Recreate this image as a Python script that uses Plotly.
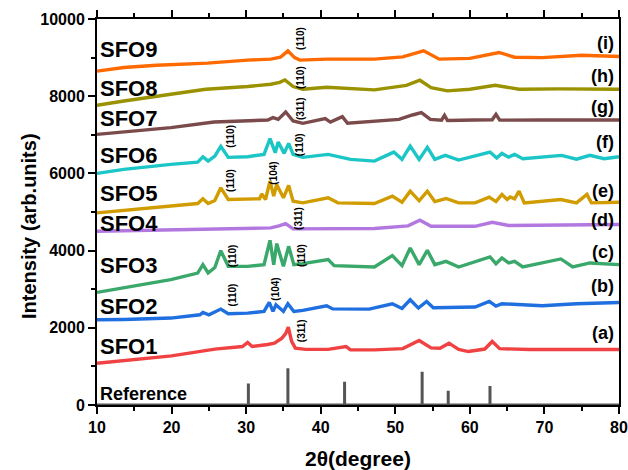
import plotly.graph_objects as go

# ---------------- data ----------------
sfo9_x = [10, 13.6, 18, 24.8, 30.2, 33.3, 34.6, 35.6, 36.5, 37.2, 40.8, 47.2, 51, 53.8, 55.9, 60, 63.9, 66, 69.7, 75, 80]
sfo9_y = [8650, 8744, 8800, 8856, 8934, 8960, 9010, 9175, 9000, 8934, 8960, 8960, 9020, 9175, 8960, 8980, 9133, 9010, 9000, 9060, 9030]

sfo8_x = [10, 13.6, 19.9, 24.6, 30.2, 33.3, 34.5, 35.2, 36.3, 37.6, 40.8, 47.2, 51.5, 53.3, 54.8, 57, 60, 63.4, 66.6, 72, 80]
sfo8_y = [7765, 7877, 8050, 8180, 8250, 8310, 8360, 8422, 8250, 8180, 8230, 8163, 8280, 8414, 8224, 8137, 8180, 8284, 8180, 8190, 8180]

sfo7_x = [10, 13.6, 19.9, 25.7, 30.2, 32.9, 33.6, 34.3, 35.3, 36.3, 37.6, 40.6, 41.3, 42.9, 43.6, 47.2, 50.5, 52.3, 53.5, 54.7, 56.2, 56.6, 57, 60.6, 63, 63.5, 64, 69.7, 80]
sfo7_y = [7012, 7072, 7185, 7331, 7357, 7383, 7445, 7400, 7591, 7357, 7298, 7420, 7330, 7471, 7298, 7357, 7400, 7513, 7575, 7400, 7380, 7505, 7370, 7383, 7390, 7530, 7380, 7383, 7383]

sfo6_x = [10, 13.6, 19.9, 23.5, 24.2, 24.9, 25.8, 26.6, 27.6, 30.2, 32.4, 33.2, 33.9, 34.3, 35.1, 35.7, 36.3, 37.6, 41, 44, 47.2, 49.8, 50.9, 52, 53.2, 54.3, 55.3, 56.7, 58.5, 62.7, 63.6, 64.3, 65.2, 66, 67.1, 72.3, 74.3, 76.1, 78, 80]
sfo6_y = [6000, 6103, 6233, 6293, 6432, 6319, 6450, 6700, 6415, 6432, 6493, 6900, 6536, 6812, 6518, 6778, 6493, 6415, 6493, 6363, 6319, 6552, 6363, 6708, 6363, 6674, 6363, 6467, 6345, 6552, 6400, 6518, 6420, 6493, 6380, 6467, 6370, 6467, 6380, 6430]

sfo5_x = [10, 13.6, 19.9, 23.5, 24.2, 24.9, 25.8, 26.6, 27.6, 30.2, 31.8, 32.1, 32.6, 33.2, 33.7, 34.1, 35.0, 35.7, 36.3, 37.6, 41, 42.3, 47.2, 49.6, 50.9, 52, 53.2, 54.3, 55.3, 56.8, 58.5, 60.7, 62.6, 63.5, 64.3, 65.0, 65.4, 66.0, 66.6, 67.3, 72.2, 74.3, 75.7, 76.3, 80]
sfo5_y = [4978, 5047, 5150, 5220, 5342, 5220, 5300, 5627, 5324, 5342, 5342, 5471, 5324, 5800, 5410, 5713, 5367, 5687, 5280, 5237, 5367, 5237, 5220, 5410, 5254, 5540, 5290, 5540, 5270, 5350, 5237, 5237, 5384, 5270, 5454, 5324, 5390, 5340, 5540, 5237, 5324, 5237, 5454, 5237, 5254]

sfo4_x = [10, 19.9, 30.2, 33.3, 34.4, 35.3, 36.3, 40.6, 47.2, 51.7, 53.3, 54.8, 60.7, 63, 65.2, 80]
sfo4_y = [4500, 4545, 4571, 4588, 4640, 4700, 4562, 4571, 4571, 4640, 4786, 4630, 4630, 4735, 4650, 4675]

sfo3_x = [10, 13.6, 19.9, 23.5, 24.2, 24.9, 25.8, 26.6, 27.6, 30.2, 32.4, 33.2, 33.7, 34.1, 35.0, 35.7, 36.4, 37.6, 41, 41.8, 47.2, 49.6, 50.9, 52, 53.2, 54.3, 55.3, 56.8, 58.5, 62.7, 63.5, 64.3, 65.2, 66, 67.1, 72.2, 73.8, 76.1, 80]
sfo3_y = [2917, 3030, 3246, 3419, 3636, 3420, 3560, 3999, 3592, 3592, 3636, 4267, 3636, 4181, 3592, 4111, 3636, 3662, 3766, 3610, 3575, 3870, 3610, 4069, 3636, 4007, 3636, 3722, 3575, 3835, 3660, 3809, 3680, 3722, 3575, 3784, 3575, 3680, 3636]

sfo2_x = [10, 13.6, 19.9, 23.8, 24.2, 25.0, 26.6, 27.6, 30.2, 32.4, 33.1, 33.6, 34.0, 35.0, 35.6, 36.4, 37.6, 40.8, 41.6, 46.5, 49.6, 50.9, 52, 53.1, 54.2, 55.1, 60.7, 62.6, 63.5, 64.3, 69.7, 74.3, 80]
sfo2_y = [2208, 2215, 2252, 2337, 2397, 2337, 2485, 2363, 2381, 2424, 2657, 2424, 2597, 2424, 2623, 2424, 2450, 2571, 2490, 2485, 2623, 2500, 2727, 2511, 2683, 2520, 2537, 2683, 2560, 2623, 2571, 2623, 2657]

sfo1_x = [10, 13.6, 20, 25.8, 29.5, 30.2, 30.8, 32.9, 33.8, 34.8, 35.3, 35.65, 36.1, 36.6, 38, 41, 43.4, 44, 47.2, 51, 53.2, 54.8, 56, 57.2, 58.5, 59.8, 62, 63, 64, 68, 72, 76, 80]
sfo1_y = [1082, 1143, 1272, 1446, 1515, 1619, 1515, 1567, 1600, 1732, 1850, 2018, 1650, 1472, 1440, 1440, 1515, 1430, 1428, 1460, 1671, 1480, 1470, 1602, 1440, 1385, 1450, 1645, 1460, 1437, 1430, 1440, 1437]

ref_pos = [30.3, 35.6, 43.2, 53.6, 57.1, 62.7]
ref_int = [560, 950, 600, 860, 370, 490]

names = ["SFO1", "SFO2", "SFO3", "SFO4", "SFO5", "SFO6", "SFO7", "SFO8", "SFO9"]
letters = ["(a)", "(b)", "(c)", "(d)", "(e)", "(f)", "(g)", "(h)", "(i)"]
name_y = [1506, 2545, 3618, 4700, 5480, 6467, 7428, 8207, 9220]
letter_y = [1870, 3090, 3973, 4804, 5532, 6804, 7713, 8518, 9375]

peak_labels = ["(110)", "(110)", "(311)", "(110)", "(110)", "(110)", "(104)", "(311)", "(110)", "(110)", "(110)", "(104)", "(311)"]
peak_x = [37.2, 37.2, 37.2, 27.9, 37.2, 27.9, 33.7, 37.0, 28.2, 37.4, 28.2, 34.0, 37.4]
peak_y = [9505, 8492, 7687, 6960, 6752, 5817, 6012, 4830, 3870, 3870, 2857, 3013, 1922]

x_title = "2θ(degree)"
y_title = "Intensity (arb.units)"

# ---------------- styling ----------------
colors = ["#f04242", "#1f6fe0", "#3aa86a", "#b278e0", "#d09c00",
          "#1cc6c6", "#7b4b4b", "#9a9200", "#ff6a00"]
series_x = [sfo1_x, sfo2_x, sfo3_x, sfo4_x, sfo5_x, sfo6_x, sfo7_x, sfo8_x, sfo9_x]
series_y = [sfo1_y, sfo2_y, sfo3_y, sfo4_y, sfo5_y, sfo6_y, sfo7_y, sfo8_y, sfo9_y]
FONT = "Liberation Sans, Arial, sans-serif"

fig = go.Figure()

# reference stick pattern (with its baseline)
rx, ry = [10], [0]
for p, h in zip(ref_pos, ref_int):
    rx += [p, p, p]
    ry += [0, h, 0]
rx.append(80)
ry.append(0)
fig.add_trace(go.Scatter(x=rx, y=ry, mode="lines",
                         line=dict(color="#555555", width=3),
                         showlegend=False, hoverinfo="skip"))

for xs, ys, c, n in zip(series_x, series_y, colors, names):
    fig.add_trace(go.Scatter(x=xs, y=ys, mode="lines", name=n,
                             line=dict(color=c, width=3.4),
                             showlegend=False))

ann = []
for n, yv in zip(names, name_y):
    ann.append(dict(x=10.1, y=yv, text=n, xanchor="left", yanchor="middle",
                    showarrow=False, font=dict(family=FONT, size=22, color="black", weight="bold")))
ann.append(dict(x=10.15, y=286, text="Reference", xanchor="left", yanchor="middle",
                showarrow=False, font=dict(family=FONT, size=18, color="black", weight="bold")))
for t, yv in zip(letters, letter_y):
    ann.append(dict(x=79.6, y=yv, text=t, xanchor="right", yanchor="middle",
                    showarrow=False, font=dict(family=FONT, size=18, color="black", weight="bold")))
for t, xv, yv in zip(peak_labels, peak_x, peak_y):
    ann.append(dict(x=xv, y=yv, text=t, textangle=-90, xanchor="center", yanchor="middle",
                    showarrow=False, font=dict(family=FONT, size=10, color="black", weight="bold")))

# axis titles placed as paper annotations for exact positioning
ann.append(dict(xref="paper", yref="paper", x=0.5, y=0, yshift=-53, text=x_title,
                xanchor="center", yanchor="middle", showarrow=False,
                font=dict(family=FONT, size=21, color="black", weight="bold")))
ann.append(dict(xref="paper", yref="paper", x=0, y=0.5, xshift=-68, yshift=-14, text=y_title,
                textangle=-90, xanchor="center", yanchor="middle", showarrow=False,
                font=dict(family=FONT, size=20, color="black", weight="bold")))

axis_common = dict(showline=True, linecolor="black", linewidth=2, mirror="ticks",
                   ticks="outside", ticklen=7, tickwidth=2, tickcolor="black",
                   showgrid=False, zeroline=False, automargin=False,
                   tickfont=dict(family=FONT, size=16, color="black", weight="bold"))

fig.update_layout(
    width=628, height=470,
    margin=dict(l=97, r=9, t=19, b=65),
    paper_bgcolor="white", plot_bgcolor="white",
    annotations=ann,
    xaxis=dict(range=[10, 80], tickmode="linear", tick0=10, dtick=10,
               minor=dict(dtick=5, ticks="outside", ticklen=4, tickwidth=2, tickcolor="black"),
               **axis_common),
    yaxis=dict(range=[0, 10000], tickmode="linear", tick0=0, dtick=2000, tickformat="d",
               minor=dict(dtick=1000, ticks="outside", ticklen=4, tickwidth=2, tickcolor="black"),
               **axis_common),
)
fig.update_yaxes(mirror=True)

fig.write_html("out.html", config={"displayModeBar": False},
               post_script="document.body.style.margin='0px';document.body.style.padding='0px';")
